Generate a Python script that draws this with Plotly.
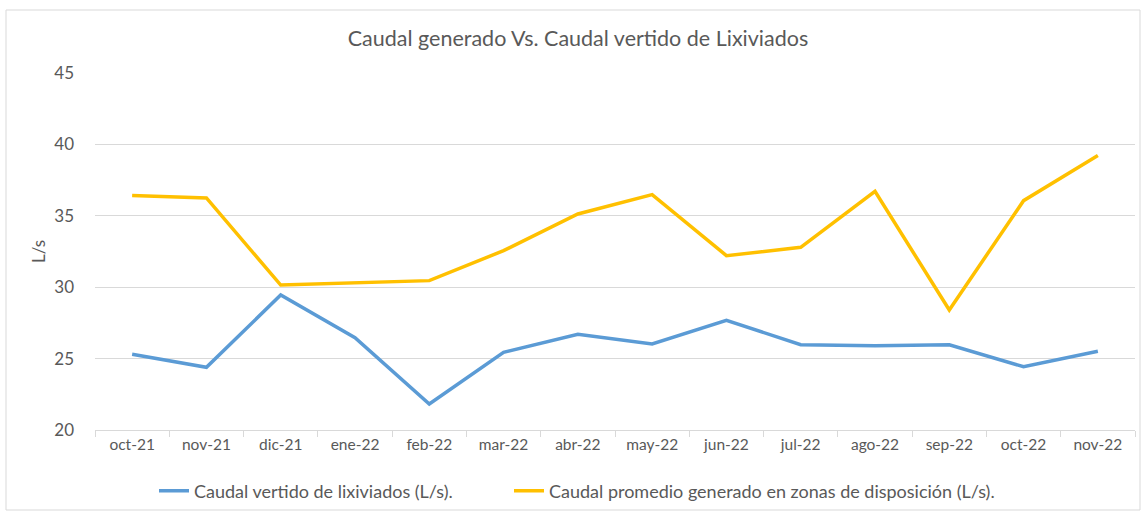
import plotly.graph_objects as go

months = ["oct-21", "nov-21", "dic-21", "ene-22", "feb-22", "mar-22", "abr-22",
          "may-22", "jun-22", "jul-22", "ago-22", "sep-22", "oct-22", "nov-22"]
vertido = [25.30, 24.39, 29.45, 26.46, 21.82, 25.44, 26.70,
           26.02, 27.68, 25.97, 25.90, 25.97, 24.43, 25.51]
generado = [36.42, 36.25, 30.15, 30.30, 30.46, 32.56, 35.13,
            36.48, 32.21, 32.79, 36.72, 28.40, 36.06, 39.22]
name_vertido = "Caudal vertido de lixiviados (L/s)."
name_generado = "Caudal promedio generado en zonas de disposición (L/s)."
title = "Caudal generado Vs. Caudal vertido de Lixiviados"
yticks = [20, 25, 30, 35, 40, 45]

FONT = "Lato"
GREY = "#595959"

fig = go.Figure()
fig.add_trace(go.Scatter(x=months, y=vertido, name=name_vertido, mode="lines",
                         line=dict(color="#5B9BD5", width=3.5), legend="legend"))
fig.add_trace(go.Scatter(x=months, y=generado, name=name_generado, mode="lines",
                         line=dict(color="#FFC000", width=3.5), legend="legend2"))

L, R, T, B = 95, 9, 73, 83
W, H = 1144, 513
pw, ph = W - L - R, H - T - B

legend_common = dict(orientation="h", xanchor="left", y=-(491 - (T + ph)) / ph,
                     yanchor="middle", font=dict(size=18, color=GREY, family=FONT),
                     itemwidth=30, bgcolor="rgba(0,0,0,0)")

fig.update_layout(
    width=W, height=H,
    margin=dict(l=L, r=R, t=T, b=B, autoexpand=False),
    paper_bgcolor="white", plot_bgcolor="white",
    font=dict(family=FONT, color=GREY, size=15),
    title=dict(text=title, x=578 / W, xanchor="center", y=1 - 38 / H, yanchor="middle",
               font=dict(size=21.5, color=GREY, family=FONT)),
    showlegend=True,
    legend=dict(x=(154 - L) / pw, **legend_common),
    legend2=dict(x=(509 - L) / pw, **legend_common),
    xaxis=dict(type="category", showgrid=False, showline=True, linecolor="#d9d9d9",
               linewidth=1, ticks="outside", tickson="boundaries", ticklen=6,
               tickcolor="#d9d9d9", tickfont=dict(size=15.5, color=GREY), range=[-0.5, 13.5]),
    yaxis=dict(range=[20, 45], tickvals=yticks, showgrid=True, gridcolor="#d9d9d9",
               gridwidth=1, zeroline=False, showline=False, ticks="",
               tickfont=dict(size=17, color=GREY), ticklabelstandoff=20,
               title=dict(text="L/s", font=dict(size=17, color=GREY), standoff=4)),
)

# outer chart border
fig.add_shape(type="rect", xref="paper", yref="paper",
              x0=(6 - L) / pw, x1=(1140 - L) / pw,
              y0=-(510 - (T + ph)) / ph, y1=1 + (T - 10) / ph,
              line=dict(color="#d9d9d9", width=1), fillcolor="rgba(0,0,0,0)", layer="below")

fig.write_html("out.html", config={"displayModeBar": False},
               post_script="document.body.style.margin='0';")
